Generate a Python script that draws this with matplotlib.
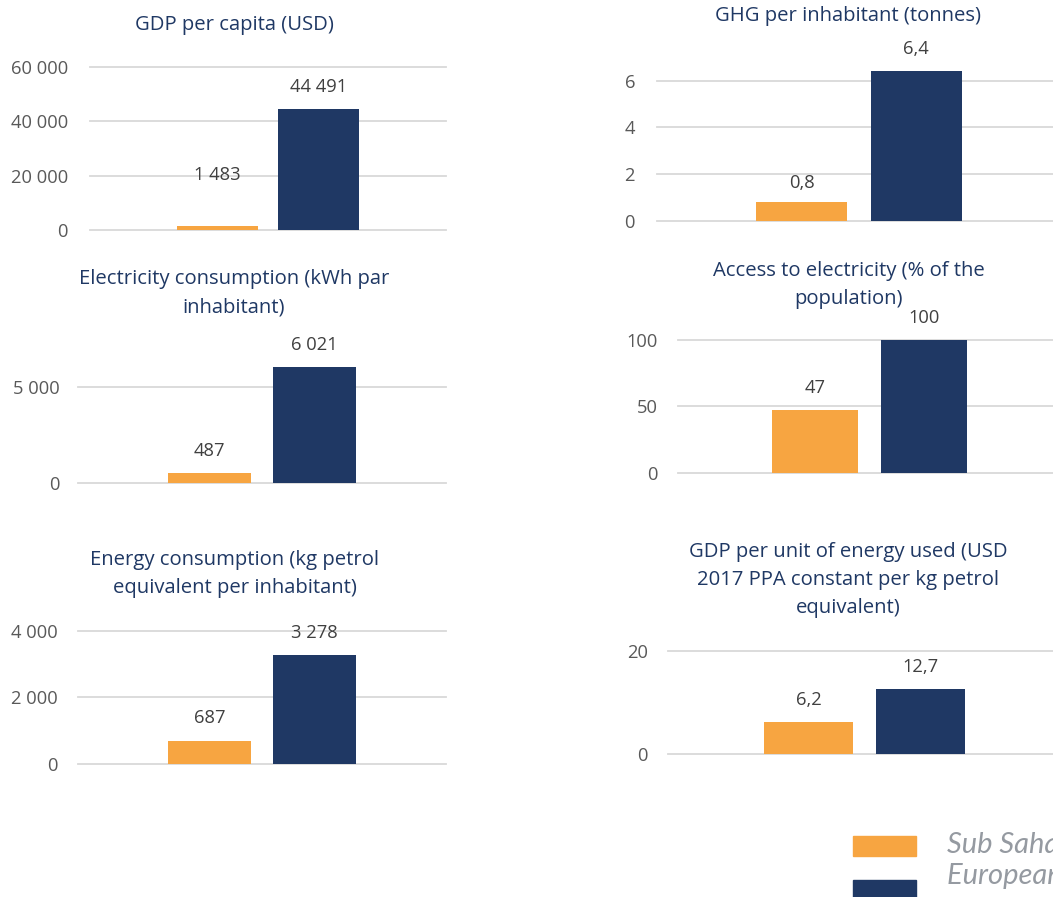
import matplotlib
matplotlib.use("Agg")
import matplotlib.pyplot as plt
from matplotlib.patches import Rectangle

# ---------------- data ----------------
series_names = ["Sub Saharan Africa", "European Union"]
titles = [
    "GDP per capita (USD)",
    "GHG per inhabitant (tonnes)",
    "Electricity consumption (kWh par\ninhabitant)",
    "Access to electricity (% of the\npopulation)",
    "Energy consumption (kg petrol\nequivalent per inhabitant)",
    "GDP per unit of energy used (USD\n2017 PPA constant per kg petrol\nequivalent)",
]
ssa_values = [1483, 0.8, 487, 47, 687, 6.2]
eu_values = [44491, 6.4, 6021, 100, 3278, 12.7]
value_decimals = [0, 1, 0, 0, 0, 1]
yticks = [
    [0, 20000, 40000, 60000],
    [0, 2, 4, 6],
    [0, 5000],
    [0, 50, 100],
    [0, 2000, 4000],
    [0, 20],
]

# ---------------- style ----------------
ORANGE = "#F7A541"
NAVY = "#1F3864"
TITLE_C = "#1F3864"
TICK_C = "#595959"
GRID_C = "#D9D9D9"
LEG_C = "#959AA1"
FONT = "Open Sans"

W, H = 1053, 897
fig = plt.figure(figsize=(W / 100, H / 100), dpi=100)

layout = [
    dict(l=90, r=446, y0=230.0, yr=66.7, rv=60000, top=60000, tx=234, ty=25, pad=22, ssa_off=51),
    dict(l=657, r=1061, y0=220.7, yr=80.7, rv=6, top=7, tx=848, ty=16, pad=22, ssa_off=19),
    dict(l=78, r=446, y0=482.5, yr=386.7, rv=5000, top=6800, tx=234, ty=279, pad=18, ssa_off=22),
    dict(l=678, r=1061, y0=472.7, yr=340.0, rv=100, top=100, tx=849, ty=271, pad=20, ssa_off=22),
    dict(l=78, r=446, y0=763.5, yr=631.0, rv=4000, top=4000, tx=235, ty=560, pad=20, ssa_off=23),
    dict(l=668, r=1061, y0=754.3, yr=650.7, rv=20, top=20, tx=848, ty=552, pad=20, ssa_off=22),
]

BAR_W = 0.226
OFF = 0.142
LINE_SP = 28


def fmt(v, dec):
    if dec == 0:
        return f"{v:,.0f}".replace(",", " ")
    return f"{v:.{dec}f}".replace(".", ",")


for i, L in enumerate(layout):
    ppu = (L["y0"] - L["yr"]) / L["rv"]
    top_px = L["y0"] - L["top"] * ppu
    ax = fig.add_axes([L["l"] / W, 1 - L["y0"] / H, (L["r"] - L["l"]) / W, (L["y0"] - top_px) / H])
    ax.set_xlim(-0.5, 0.5)
    ax.set_ylim(0, L["top"])
    for s in ax.spines.values():
        s.set_visible(False)
    ax.set_xticks([])
    ax.set_yticks(yticks[i])
    ax.set_yticklabels([fmt(t, 0) for t in yticks[i]], fontsize=13.2, color=TICK_C, family=FONT)
    ax.tick_params(axis="y", length=0, pad=L["pad"] * 72 / 100)
    for t in yticks[i]:
        ax.axhline(t, color=GRID_C, lw=1.3, zorder=0, clip_on=False)
    ax.patch.set_alpha(0)

    vals = [ssa_values[i], eu_values[i]]
    cols = [ORANGE, NAVY]
    offs = [L["ssa_off"], 22]
    for k, (v, c) in enumerate(zip(vals, cols)):
        x = -OFF if k == 0 else OFF
        ax.bar(x, v, width=BAR_W, color=c, zorder=2, clip_on=False)
        ax.annotate(fmt(v, value_decimals[i]), xy=(x, v), xytext=(0, offs[k] * 72 / 100),
                    textcoords="offset points", ha="center", va="center",
                    fontsize=13.2, color="#404040", family=FONT, annotation_clip=False)

    lines = titles[i].split("\n")
    for j, line in enumerate(lines):
        fig.text(L["tx"] / W, 1 - (L["ty"] + j * LINE_SP) / H, line, ha="center", va="center",
                 fontsize=14.6, color=TITLE_C, family=FONT)

# ---------------- legend ----------------
for c, yc in zip([ORANGE, NAVY], [845.5, 889.5]):
    fig.patches.append(Rectangle((853 / W, 1 - (yc + 10) / H), 63 / W, 20 / H,
                                 transform=fig.transFigure, color=c, figure=fig))
for name, yc in zip(series_names, [845, 876]):
    fig.text(947 / W, 1 - yc / H, name, ha="left", va="center", fontsize=21,
             color=LEG_C, family="Lato", style="italic", weight="normal")

fig.savefig("out.png", dpi=100)
